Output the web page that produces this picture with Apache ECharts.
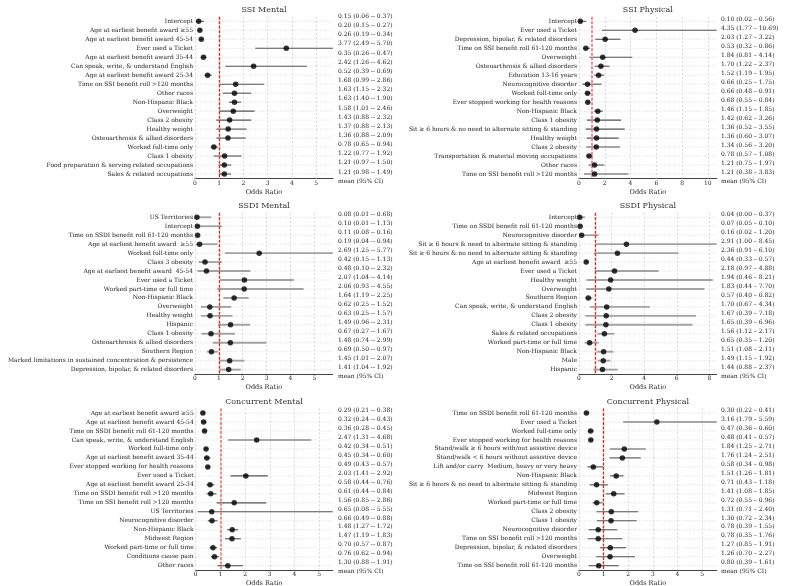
<!DOCTYPE html>
<html><head><meta charset="utf-8">
<script src="https://cdn.jsdelivr.net/npm/echarts@6/dist/echarts.min.js"></script>
<style>html,body{margin:0;padding:0;background:#fff}#c{width:793px;height:586px}</style>
</head><body><div id="c"></div>
<script>
// ---------- DATA ----------
const ssiMentalLabels = ["Intercept","Age at earliest benefit award \u226555","Age at earliest benefit award 45-54","Ever used a Ticket","Age at earliest benefit award 35-44","Can speak, write, & understand English","Age at earliest benefit award 25-34","Time on SSI benefit roll >120 months","Other races","Non-Hispanic Black","Overweight","Class 2 obesity","Healthy weight","Osteoarthrosis & allied disorders","Worked full-time only","Class 1 obesity","Food preparation & serving related occupations","Sales & related occupations"];
const ssiMentalMean = [0.15,0.20,0.26,3.77,0.35,2.42,0.52,1.68,1.63,1.63,1.58,1.43,1.37,1.36,0.78,1.22,1.21,1.21];
const ssiMentalLow  = [0.06,0.15,0.19,2.49,0.26,1.26,0.39,0.99,1.15,1.40,1.01,0.88,0.88,0.88,0.65,0.77,0.97,0.98];
const ssiMentalHigh = [0.37,0.27,0.34,5.70,0.47,4.62,0.69,2.86,2.32,1.90,2.46,2.32,2.13,2.09,0.94,1.92,1.50,1.49];

const ssiPhysLabels = ["Intercept","Ever used a Ticket","Depression, bipolar, & related disorders","Time on SSI benefit roll 61-120 months","Overweight","Osteoarthrosis & allied disorders","Education 13-16 years","Neurocognitive disorder","Worked full-time only","Ever stopped working for health reasons","Non-Hispanic Black","Class 1 obesity","Sit \u2265 6 hours & no need to alternate sitting & standing","Healthy weight","Class 2 obesity","Transportation & material moving occupations","Other races","Time on SSI benefit roll >120 months"];
const ssiPhysMean = [0.10,4.35,2.03,0.53,1.84,1.70,1.52,0.66,0.66,0.68,1.46,1.42,1.36,1.36,1.34,0.78,1.21,1.21];
const ssiPhysLow  = [0.02,1.77,1.27,0.32,0.81,1.22,1.19,0.25,0.48,0.55,1.15,0.62,0.52,0.60,0.56,0.57,0.75,0.38];
const ssiPhysHigh = [0.56,10.69,3.22,0.86,4.14,2.37,1.95,1.75,0.91,0.84,1.85,3.26,3.55,3.07,3.20,1.08,1.97,3.83];

const ssdiMentalLabels = ["US Territories","Intercept","Time on SSDI benefit roll 61-120 months","Age at earliest benefit award  \u226555","Worked full-time only","Class 3 obesity","Age at earliest benefit award  45-54","Ever used a Ticket","Worked part-time or full time","Non-Hispanic Black","Overweight","Healthy weight","Hispanic","Class 1 obesity","Osteoarthrosis & allied disorders","Southern Region","Marked limitations in sustained concentration & persistence","Depression, bipolar, & related disorders"];
const ssdiMentalMean = [0.08,0.10,0.11,0.19,2.69,0.42,0.48,2.07,2.06,1.64,0.62,0.63,1.49,0.67,1.48,0.69,1.45,1.41];
const ssdiMentalLow  = [0.01,0.01,0.08,0.04,1.25,0.15,0.10,1.04,0.93,1.19,0.25,0.25,0.96,0.27,0.74,0.50,1.01,1.04];
const ssdiMentalHigh = [0.68,1.13,0.16,0.94,5.77,1.13,2.32,4.14,4.55,2.25,1.52,1.57,2.31,1.67,2.99,0.97,2.07,1.92];

const ssdiPhysLabels = ["Intercept","Time on SSDI benefit roll 61-120 months","Neurocognitive disorder","Sit \u2265 6 hours & need to alternate sitting & standing","Sit \u2265 6 hours & no need to alternate sitting & standing","Age at earliest benefit award  \u226555","Ever used a Ticket","Healthy weight","Overweight","Southern Region","Can speak, write, & understand English","Class 2 obesity","Class 1 obesity","Sales & related occupations","Worked part-time or full time","Non-Hispanic Black","Male","Hispanic"];
const ssdiPhysMean = [0.04,0.07,0.16,2.91,2.36,0.44,2.18,1.94,1.83,0.57,1.70,1.67,1.65,1.56,0.65,1.51,1.49,1.44];
const ssdiPhysLow  = [0.00,0.05,0.02,1.00,0.91,0.33,0.97,0.46,0.44,0.40,0.67,0.39,0.39,1.12,0.35,1.08,1.15,0.88];
const ssdiPhysHigh = [0.37,0.10,1.20,8.45,6.10,0.57,4.88,8.21,7.70,0.82,4.34,7.18,6.96,2.17,1.20,2.11,1.92,2.37];

const concMentalLabels = ["Age at earliest benefit award \u226555","Age at earliest benefit award 45-54","Time on SSDI benefit roll 61-120 months","Can speak, write, & understand English","Worked full-time only","Age at earliest benefit award 35-44","Ever stopped working for health reasons","Ever used a Ticket","Age at earliest benefit award 25-34","Time on SSDI benefit roll >120 months","Time on SSI benefit roll >120 months","US Territories","Neurocognitive disorder","Non-Hispanic Black","Midwest Region","Worked part-time or full time","Conditions cause pain","Other races"];
const concMentalMean = [0.29,0.32,0.36,2.47,0.42,0.45,0.49,2.03,0.58,0.61,1.56,0.65,0.66,1.48,1.47,0.70,0.76,1.30];
const concMentalLow  = [0.21,0.24,0.28,1.31,0.34,0.34,0.43,1.41,0.44,0.44,0.85,0.08,0.49,1.27,1.19,0.57,0.62,0.88];
const concMentalHigh = [0.38,0.43,0.45,4.68,0.51,0.60,0.57,2.92,0.76,0.84,2.86,5.55,0.88,1.72,1.83,0.87,0.94,1.91];

const concPhysLabels = ["Time on SSDI benefit roll 61-120 months","Ever used a Ticket","Worked full-time only","Ever stopped working for health reasons","Stand/walk \u2265 6 hours with/out assistive device","Stand/walk < 6 hours without assistive device","Lift and/or carry  Medium, heavy or very heavy","Non-Hispanic Black","Sit \u2265 6 hours & no need to alternate sitting & standing","Midwest Region","Worked part-time or full time","Class 2 obesity","Class 1 obesity","Neurocognitive disorder","Time on SSI benefit roll >120 months","Depression, bipolar, & related disorders","Overweight","Time on SSI benefit roll 61-120 months"];
const concPhysMean = [0.30,3.16,0.47,0.48,1.84,1.76,0.58,1.51,0.71,1.41,0.72,1.31,1.30,0.78,0.78,1.27,1.26,0.80];
const concPhysLow  = [0.22,1.79,0.36,0.41,1.25,1.24,0.34,1.26,0.43,1.08,0.55,0.71,0.72,0.39,0.35,0.85,0.70,0.39];
const concPhysHigh = [0.41,5.59,0.60,0.57,2.71,2.51,0.98,1.81,1.18,1.85,0.96,2.40,2.34,1.55,1.76,1.91,2.27,1.61];

const titles = ["SSI Mental","SSI Physical","SSDI Mental","SSDI Physical","Concurrent Mental","Concurrent Physical"];
const ticksA = [0,1,2,3,4,5];
const ticksB = [0,2,4,6,8,10];
const ticksC = [0,1,2,3,4,5];
const ticksD = [0,2,4,6,8];
const ticksE = [0,1,2,3,4,5];
const ticksF = [0,1,2,3,4,5];
const axisName = "Odds Ratio";
const ciHeader = "mean (95% CI)";

// ---------- LAYOUT / STYLE ----------
const FONT = "DejaVu Serif";
const DARK = {ci:"#555", ciW:1.1};
const LIGHT = {ci:"#a3a3a3", ciW:1.9};
const RED = {ref:"#ee1c1c", refW:1.3};
const PINK = {ref:"#f28b8b", refW:2};
const panels = [
  {labels:ssiMentalLabels, mean:ssiMentalMean, lo:ssiMentalLow, hi:ssiMentalHigh, ticks:ticksA, sep:" -- ", ...DARK, ...RED,
   gx:195, gw:138, top:16.8, h:161.7, tcx:264, tcy:10.7, tx:338, tTop:11.9, tH:173.9},
  {labels:ssiPhysLabels, mean:ssiPhysMean, lo:ssiPhysLow, hi:ssiPhysHigh, ticks:ticksB, sep:" \u2013 ", ...DARK, ...PINK,
   gx:579, gw:137.7, top:16.8, h:161.7, tcx:647.9, tcy:10.7, tx:721, tTop:14.5, tH:171},
  {labels:ssdiMentalLabels, mean:ssdiMentalMean, lo:ssdiMentalLow, hi:ssdiMentalHigh, ticks:ticksC, sep:" -- ", ...LIGHT, ...RED,
   gx:195, gw:137.7, top:212.8, h:161.3, tcx:264, tcy:206.3, tx:338, tTop:209.8, tH:171.4},
  {labels:ssdiPhysLabels, mean:ssdiPhysMean, lo:ssdiPhysLow, hi:ssdiPhysHigh, ticks:ticksD, sep:" \u2013 ", ...LIGHT, ...RED,
   gx:579, gw:137.7, top:212.8, h:161.3, tcx:647.9, tcy:206.3, tx:721, tTop:209.8, tH:171.4},
  {labels:concMentalLabels, mean:concMentalMean, lo:concMentalLow, hi:concMentalHigh, ticks:ticksE, sep:" -- ", ...DARK, ...PINK,
   gx:195.7, gw:137, top:408.5, h:161.7, tcx:264, tcy:402.3, tx:338, tTop:406.2, tH:169.9},
  {labels:concPhysLabels, mean:concPhysMean, lo:concPhysLow, hi:concPhysHigh, ticks:ticksF, sep:" \u2013 ", ...DARK, ...RED,
   gx:579, gw:137.7, top:408.5, h:161.7, tcx:647.9, tcy:402.3, tx:721, tTop:406.2, tH:169.9}
];

const grid = [], xAxis = [], yAxis = [], series = [], title = [];
const txt = {fontFamily:FONT, fontSize:6, color:"#222"};

panels.forEach((p, i) => {
  const g = 2*i, gt = 2*i+1;
  const xmax = Math.max(...p.hi);
  grid.push({left:p.gx, top:p.top, width:p.gw, height:p.h, containLabel:false, outerBoundsMode:"none"});
  grid.push({left:p.tx-3, top:p.tTop, width:1, height:p.tH, containLabel:false, outerBoundsMode:"none"});
  title.push({text:titles[i], left:p.tcx, top:p.tcy-4.6, textAlign:"center", padding:0,
    textStyle:{fontFamily:FONT, fontSize:8, fontWeight:"normal", color:"#333"}});
  xAxis.push({gridIndex:g, type:"value", min:0, max:xmax,
    axisLine:{show:true, lineStyle:{color:"#444", width:1}},
    axisTick:{show:false},
    axisLabel:{customValues:p.ticks, margin:1.5, ...txt},
    splitLine:{show:false},
    name:axisName, nameLocation:"middle", nameGap:10,
    nameTextStyle:{fontFamily:FONT, fontSize:6.5, color:"#222"}});
  xAxis.push({gridIndex:gt, type:"value", show:false});
  yAxis.push({gridIndex:g, type:"category", inverse:true, data:p.labels,
    axisLine:{show:false}, axisTick:{show:false}, splitLine:{show:false},
    axisLabel:{interval:0, margin:2, ...txt}});
  const texts = p.mean.map((m, k) => m.toFixed(2)+" ("+p.lo[k].toFixed(2)+p.sep+p.hi[k].toFixed(2)+")");
  texts.push(ciHeader);
  yAxis.push({gridIndex:gt, type:"category", inverse:true, position:"right", data:texts,
    axisLine:{show:false}, axisTick:{show:false}, splitLine:{show:false},
    axisLabel:{interval:0, margin:2, ...txt}});

  // background row lines + vertical grid lines
  series.push({type:"custom", xAxisIndex:g, yAxisIndex:g, z:1, silent:true,
    data:p.labels.map((_, k) => [0, k]), encode:{x:0, y:1},
    renderItem:(params, api) => {
      const cs = params.coordSys;
      const pt = api.coord([0, api.value(1)]);
      return {type:"line", shape:{x1:cs.x, y1:pt[1], x2:cs.x+cs.width, y2:pt[1]},
        style:{stroke:"#d6d6d6", lineWidth:0.8, lineDash:[1,1.5]}};
    },
    markLine:{silent:true, symbol:"none", z:1, animation:false, label:{show:false},
      lineStyle:{color:"#d0d0d0", type:[2,2], width:0.8},
      data:p.ticks.map(v => ({xAxis:v}))}
  });
  // CI lines
  series.push({type:"custom", xAxisIndex:g, yAxisIndex:g, z:3, silent:true,
    data:p.lo.map((l, k) => [l, k, p.hi[k]]), encode:{x:0, y:1},
    renderItem:(params, api) => {
      const a = api.coord([api.value(0), api.value(1)]);
      const b = api.coord([api.value(2), api.value(1)]);
      return {type:"line", shape:{x1:a[0], y1:a[1], x2:b[0], y2:b[1]},
        style:{stroke:p.ci, lineWidth:p.ciW}};
    }
  });
  // means + reference line at OR = 1
  series.push({type:"scatter", xAxisIndex:g, yAxisIndex:g, z:10, silent:true,
    symbol:"circle", symbolSize:5.5, itemStyle:{color:"#000"},
    data:p.mean.map((m, k) => [m, k]),
    markLine:{silent:true, symbol:"none", z:4, animation:false, label:{show:false},
      lineStyle:{color:p.ref, type:[3,1.5], width:p.refW},
      data:[{xAxis:1}]}
  });
});

const chart = echarts.init(document.getElementById("c"), null, {renderer:"canvas"});
chart.setOption({animation:false, backgroundColor:"#fff", title, grid, xAxis, yAxis, series});
</script></body></html>
